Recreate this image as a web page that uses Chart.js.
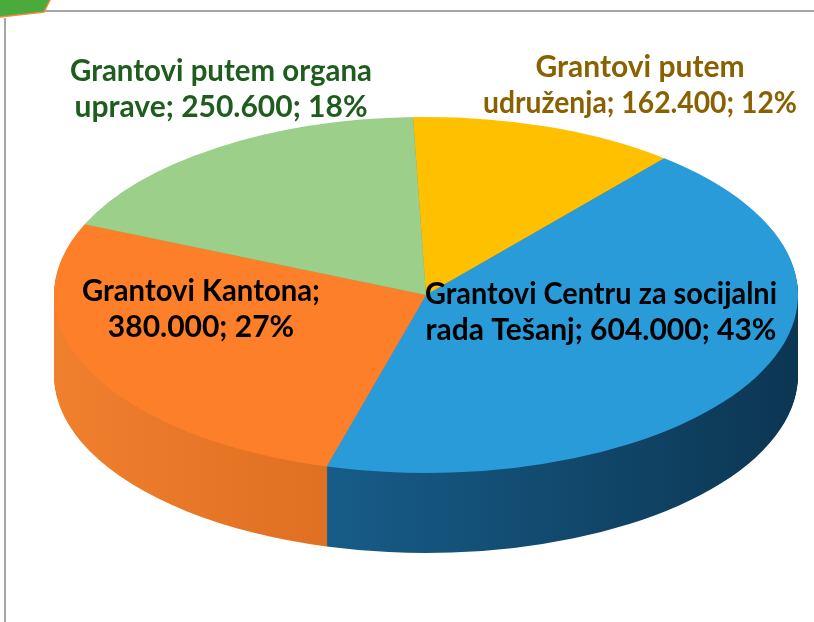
<!DOCTYPE html>
<html lang="bs">
<head>
<meta charset="UTF-8">
<title>Grantovi</title>
<script src="https://cdn.jsdelivr.net/npm/chart.js"></script>
<style>
  html, body { margin: 0; padding: 0; background: #fff; }
  #wrap { position: relative; width: 814px; height: 622px; }
</style>
</head>
<body>
<div id="wrap"><canvas id="myChart" width="814" height="622"></canvas></div>

<script>
// podaci (redoslijed u smjeru kazaljke od vrha)
const kategorije = [
  ['Grantovi putem', 'udruženja'],
  ['Grantovi Centru za socijalni', 'rada Tešanj'],
  ['Grantovi Kantona', ''],
  ['Grantovi putem organa', 'uprave']
];
const iznosi = [162400, 604000, 380000, 250600];

// boje
const bojeVrh = ['#ffc000', '#2a9bd9', '#fd7f2a', '#9ccf8a'];
const bojeStrana = [['#d9a200', '#a87c00'], ['#1d72a8', '#0c3652'], ['#f07f2e', '#c4560c'], ['#7fae6c', '#5f8c4f']];
const bojeTeksta = ['#8a6100', '#000000', '#000000', '#1f5d1f'];
// pozicije oznaka: [x centra, y prvog reda, max sirina]
const pozicije = [[640, 67, 314], [601, 294, 352], [201, 291, 238], [221, 71, 302]];

const CX = 426, CY = 295, R = 200, SX = 1.86, SY = 0.89, DUBINA = 80;

function spljosti(ctx) {
  ctx.translate(CX, CY);
  ctx.scale(SX, SY);
  ctx.translate(-CX, -CY);
}

function formatBroj(v) {
  return v.toString().replace(/\B(?=(\d{3})+(?!\d))/g, '.');
}

const ukupno = iznosi.reduce((a, b) => a + b, 0);

const pita3d = {
  id: 'pita3d',
  beforeDraw(chart) {
    const ctx = chart.ctx;
    ctx.save();
    // okvir
    ctx.strokeStyle = '#a6a6a6';
    ctx.lineWidth = 2;
    ctx.beginPath();
    ctx.moveTo(30, 11); ctx.lineTo(814, 11);
    ctx.moveTo(5, 18); ctx.lineTo(5, 622);
    ctx.stroke();
    // zelena strelica gore lijevo
    ctx.fillStyle = '#4aaa3c';
    ctx.strokeStyle = '#f08a3c';
    ctx.lineWidth = 1.5;
    ctx.beginPath();
    ctx.moveTo(0, -2); ctx.lineTo(51, -2); ctx.lineTo(44, 12); ctx.lineTo(0, 17);
    ctx.closePath();
    ctx.fill();
    ctx.beginPath();
    ctx.moveTo(0, 17); ctx.lineTo(44, 12); ctx.lineTo(51, -2);
    ctx.stroke();
    ctx.restore();
  },
  beforeDatasetsDraw(chart) {
    const ctx = chart.ctx;
    const meta = chart.getDatasetMeta(0);
    for (let d = DUBINA; d > 0; d--) {
      ctx.save();
      ctx.translate(0, d);
      spljosti(ctx);
      meta.data.forEach((arc, i) => {
        const g = ctx.createLinearGradient(CX - R, 0, CX + R, 0);
        g.addColorStop(0, bojeStrana[i][0]);
        g.addColorStop(1, bojeStrana[i][1]);
        const lazni = Object.create(arc);
        lazni.options = Object.assign({}, arc.options, { backgroundColor: g, borderWidth: 0 });
        lazni.draw(ctx);
      });
      ctx.restore();
    }
    ctx.save();
    spljosti(ctx);
  },
  afterDatasetsDraw(chart) {
    const ctx = chart.ctx;
    ctx.restore();
    ctx.save();
    ctx.font = 'bold 30px Lato';
    ctx.textAlign = 'center';
    ctx.textBaseline = 'middle';
    iznosi.forEach((v, i) => {
      const pct = Math.round(v / ukupno * 100);
      const [a, b] = kategorije[i];
      let red1, red2;
      if (b) {
        red1 = a;
        red2 = b + '; ' + formatBroj(v) + '; ' + pct + '%';
      } else {
        red1 = a + ';';
        red2 = formatBroj(v) + '; ' + pct + '%';
      }
      const [x, y, w] = pozicije[i];
      ctx.fillStyle = bojeTeksta[i];
      ctx.fillText(red1, x, y, w);
      ctx.fillText(red2, x, y + 36, w);
    });
    ctx.restore();
  }
};

new Chart(document.getElementById('myChart'), {
  type: 'pie',
  data: {
    labels: kategorije.map(k => k.join(' ')),
    datasets: [{
      data: iznosi,
      backgroundColor: bojeVrh,
      borderWidth: 0,
      clip: false
    }]
  },
  options: {
    responsive: false,
    animation: false,
    rotation: -2,
    layout: { padding: { left: CX - R, right: 814 - CX - R, top: CY - R, bottom: 622 - CY - R } },
    plugins: {
      legend: { display: false },
      tooltip: { enabled: false }
    }
  },
  plugins: [pita3d]
});
</script>
</body>
</html>
